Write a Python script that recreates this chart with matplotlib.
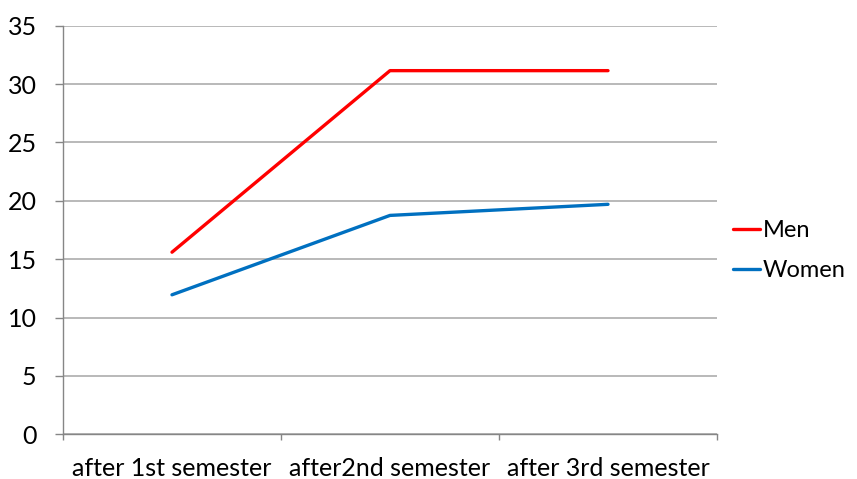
import matplotlib
matplotlib.use("Agg")
import matplotlib.pyplot as plt
import numpy as np

categories = ["after 1st semester", "after2nd semester", "after 3rd semester"]
men = [15.6, 31.15, 31.15]
women = [11.95, 18.75, 19.7]
yticks = [0, 5, 10, 15, 20, 25, 30, 35]

plt.rcParams["font.family"] = ["Lato", "DejaVu Sans"]

fig = plt.figure(figsize=(8.57, 4.79), dpi=100)
W, H = 857, 479
ax = fig.add_axes([63 / W, 1 - 434.3 / H, (717 - 63) / W, (434.3 - 25.7) / H])

x = np.arange(len(categories))
ax.plot(x, men, color="#ff0000", lw=2.4, label="Men", solid_capstyle="round")
ax.plot(x, women, color="#0070c0", lw=2.4, label="Women", solid_capstyle="round")

ax.set_xlim(-0.5, len(categories) - 0.5)
ax.set_ylim(0, 35)
ax.set_yticks(yticks)
ax.set_yticklabels([str(v) for v in yticks], fontsize=18)
ax.yaxis.grid(True, color="#a6a6a6", lw=1.1)
ax.set_axisbelow(True)

ax.set_xticks(x)
ax.set_xticklabels(categories, fontsize=18)
ax.tick_params(axis="x", length=0, pad=16)
ax.set_xticks(np.arange(-0.5, len(categories)), minor=True)
ax.tick_params(axis="x", which="minor", length=4.5, color="#868686", width=1)
ax.tick_params(axis="y", length=6, color="#868686", width=1, pad=13)

for s in ["top", "right"]:
    ax.spines[s].set_visible(False)
for s in ["left", "bottom"]:
    ax.spines[s].set_color("#868686")
    ax.spines[s].set_linewidth(1)

fig.legend(loc="upper left", bbox_to_anchor=(733 / W, 1 - 220 / H), frameon=False,
           fontsize=17, handlelength=1.15, handletextpad=0.12, labelspacing=0.82,
           borderaxespad=0, borderpad=0)

fig.savefig("out.png", dpi=100)
